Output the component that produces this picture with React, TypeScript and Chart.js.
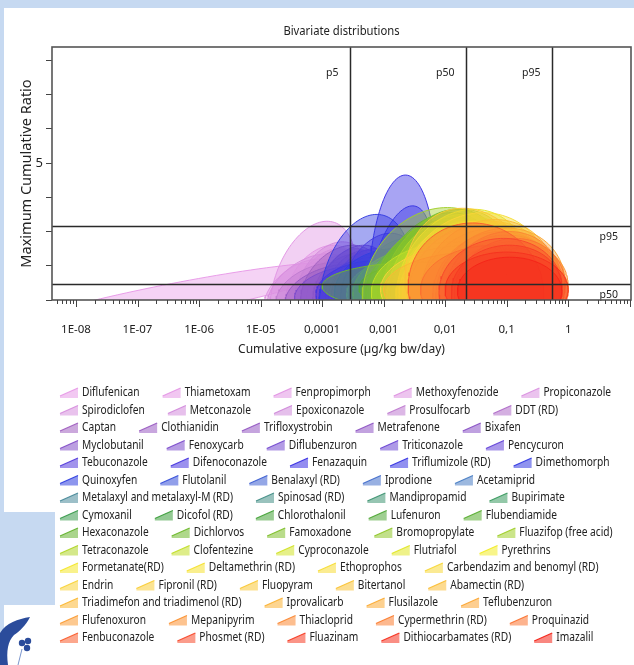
import React, { useEffect, useRef } from "react";
import { Chart, registerables } from "chart.js";

Chart.register(...registerables);

// ---------- DATA ----------
const chartTitle = "Bivariate distributions";
const substances = [
  "Diflufenican", "Thiametoxam", "Fenpropimorph", "Methoxyfenozide", "Propiconazole",
  "Spirodiclofen", "Metconazole", "Epoxiconazole", "Prosulfocarb", "DDT (RD)",
  "Captan", "Clothianidin", "Trifloxystrobin", "Metrafenone", "Bixafen",
  "Myclobutanil", "Fenoxycarb", "Diflubenzuron", "Triticonazole", "Pencycuron",
  "Tebuconazole", "Difenoconazole", "Fenazaquin", "Triflumizole (RD)", "Dimethomorph",
  "Quinoxyfen", "Flutolanil", "Benalaxyl (RD)", "Iprodione", "Acetamiprid",
  "Metalaxyl and metalaxyl-M (RD)", "Spinosad (RD)", "Mandipropamid", "Bupirimate",
  "Cymoxanil", "Dicofol (RD)", "Chlorothalonil", "Lufenuron", "Flubendiamide",
  "Hexaconazole", "Dichlorvos", "Famoxadone", "Bromopropylate", "Fluazifop (free acid)",
  "Tetraconazole", "Clofentezine", "Cyproconazole", "Flutriafol", "Pyrethrins",
  "Formetanate(RD)", "Deltamethrin (RD)", "Ethoprophos", "Carbendazim and benomyl (RD)",
  "Endrin", "Fipronil (RD)", "Fluopyram", "Bitertanol", "Abamectin (RD)",
  "Triadimefon and triadimenol (RD)", "Iprovalicarb", "Flusilazole", "Teflubenzuron",
  "Flufenoxuron", "Mepanipyrim", "Thiacloprid", "Cypermethrin (RD)", "Proquinazid",
  "Fenbuconazole", "Phosmet (RD)", "Fluazinam", "Dithiocarbamates (RD)", "Imazalil",
];
// number of legend entries on each legend row
const legendRowSizes = [5, 5, 5, 5, 5, 5, 4, 5, 5, 5, 4, 5, 4, 5, 5];

// centre of each distribution: log10 of cumulative exposure (µg/kg bw/day)
const centerExposureLog = [
  -6.45, -4.0, -4.15, -4.3, -3.9,
  -4.2, -3.85, -3.7, -4.0, -3.6,
  -3.7, -3.55, -3.8, -3.4, -3.5,
  -3.3, -3.6, -3.25, -3.15, -3.3,
  -3.05, -3.2, -2.7, -2.75, -3.3,
  -2.9, -2.75, -2.6, -2.7, -2.5,
  -2.5, -2.4, -2.3, -2.3,
  -2.2, -2.3, -2.1, -2.1, -2.0,
  -2.0, -2.4, -1.95, -1.9, -2.15,
  -1.85, -1.9, -1.75, -1.7, -1.6,
  -1.6, -1.5, -1.5, -1.45,
  -1.6, -1.4, -1.55, -1.3, -1.3,
  -1.5, -1.0, -1.2, -1.1,
  -1.1, -1.0, -1.05, -1.2, -0.95,
  -1.5, -1.1, -1.0, -1.0, -0.95,
];
// centre of each distribution: maximum cumulative ratio
const centerRatio = [
  1.0, 1.3, 1.35, 1.2, 1.3,
  1.25, 1.3, 1.25, 1.2, 1.3,
  1.35, 1.25, 1.2, 1.3, 1.3,
  1.25, 1.2, 1.3, 1.3, 1.25,
  1.35, 1.25, 1.4, 1.35, 1.3,
  1.3, 1.3, 1.3, 1.25, 1.3,
  1.3, 1.3, 1.3, 1.35,
  1.3, 1.35, 1.35, 1.3, 1.35,
  1.3, 1.4, 1.35, 1.3, 1.35,
  1.3, 1.3, 1.3, 1.35, 1.3,
  1.3, 1.3, 1.35, 1.3,
  1.3, 1.3, 1.35, 1.3, 1.35,
  1.3, 1.4, 1.3, 1.3,
  1.3, 1.3, 1.3, 1.3, 1.3,
  1.3, 1.3, 1.3, 1.3, 1.25,
];
// spread of exposure (decades)
const spreadExposureLog = [
  2.84, 0.6, 0.7, 0.65, 0.55,
  0.7, 0.6, 0.55, 0.75, 0.5,
  0.65, 0.6, 0.8, 0.55, 0.6,
  0.6, 0.85, 0.6, 0.55, 0.75,
  0.65, 0.9, 0.55, 0.55, 0.75,
  0.9, 0.7, 0.75, 0.9, 0.8,
  1.0, 0.9, 0.9, 1.0,
  1.0, 1.1, 1.0, 1.1, 1.0,
  1.2, 1.6, 1.1, 1.0, 1.2,
  1.1, 1.3, 1.05, 1.1, 1.05,
  1.15, 1.15, 1.2, 1.2,
  1.45, 1.2, 1.1, 1.1, 1.1,
  1.5, 0.9, 1.0, 1.05,
  1.0, 1.0, 0.95, 1.2, 0.9,
  1.1, 1.0, 0.9, 1.0, 0.85,
];
// spread of the maximum cumulative ratio
const spreadRatio = [
  1.1, 1.3, 1.95, 1.0, 1.2,
  1.1, 1.4, 1.1, 0.9, 1.2,
  1.25, 1.1, 0.85, 1.15, 1.3,
  1.05, 0.8, 1.2, 1.1, 1.0,
  1.6, 0.9, 3.25, 2.4, 2.2,
  1.2, 1.5, 1.3, 1.0, 1.4,
  1.2, 1.6, 1.8, 1.5,
  2.0, 0.75, 2.2, 1.8, 2.3,
  2.1, 0.7, 2.3, 2.0, 2.35,
  2.2, 1.4, 2.0, 2.3, 2.0,
  1.8, 2.0, 2.2, 1.9,
  1.3, 2.0, 2.33, 1.8, 2.0,
  1.1, 1.1, 1.7, 1.8,
  1.6, 1.4, 1.7, 1.3, 1.5,
  1.95, 1.5, 1.3, 1.1, 1.0,
];
// correlation between exposure and ratio
const correlation = [
  0.9, 0.3, 0.33, 0.4, 0.3,
  0.4, 0.3, 0.2, 0.3, 0.3,
  0.3, 0.2, 0.3, 0.2, 0.3,
  0.2, 0.2, 0.2, 0.2, 0.2,
  0.25, 0.1, 0.1, 0.4, 0.25,
  0.1, 0.2, 0.2, 0.1, 0.2,
  0.1, 0.2, 0.2, 0.15,
  0.2, 0.0, 0.2, 0.15, 0.2,
  0.15, 0.0, 0.2, 0.15, 0.15,
  0.15, 0.05, 0.15, 0.15, 0.1,
  0.1, 0.1, 0.1, 0.1,
  0.0, 0.1, -0.15, 0.1, 0.1,
  0.0, 0.2, 0.1, 0.1,
  0.1, 0.1, 0.1, 0.0, 0.1,
  -0.05, 0.05, 0.05, 0.0, 0.0,
];

const percentileExposure = [2.85e-4, 0.0219, 0.543];
const percentileExposureLabels = ["p5", "p50", "p95"];
const percentileRatio = [3.16, 1.47];
const percentileRatioLabels = ["p95", "p50"];

const xTickValues = [1e-8, 1e-7, 1e-6, 1e-5, 1e-4, 1e-3, 1e-2, 1e-1, 1];
const xTickLabels = ["1E-08", "1E-07", "1E-06", "1E-05", "0,0001", "0,001", "0,01", "0,1", "1"];
const yLabelledTicks = [5];
const yTickLabels = ["5"];

const X_MIN = 4.07e-9;
const X_MAX = 10.5;
const Y_MIN = 1;
const Y_MAX = 8.39;

// ---------- STYLE ----------
const FONT = "'Noto Sans', 'DejaVu Sans', sans-serif";
const colorStops: [number, string][] = [
  [0, "#e89ae8"], [7, "#d08ada"], [10, "#a060c0"], [15, "#8450c8"], [19, "#6444d8"],
  [22, "#3a30e4"], [25, "#3040e0"], [29, "#4a7ec4"], [30, "#4a8a9a"], [33, "#3a9a60"],
  [35, "#3c9e3c"], [40, "#6eb82c"], [45, "#c2de28"], [48, "#f2ec28"], [52, "#f8d83a"],
  [57, "#fbbe34"], [61, "#fba634"], [66, "#fb7432"], [68, "#f84a2c"], [71, "#f42418"],
];

function hexToRgb(h: string) {
  const n = parseInt(h.slice(1), 16);
  return [(n >> 16) & 255, (n >> 8) & 255, n & 255];
}
function colorAt(i: number) {
  for (let k = 0; k < colorStops.length - 1; k++) {
    const [i0, c0] = colorStops[k];
    const [i1, c1] = colorStops[k + 1];
    if (i >= i0 && i <= i1) {
      const f = i1 === i0 ? 0 : (i - i0) / (i1 - i0);
      const a = hexToRgb(c0), b = hexToRgb(c1);
      return a.map((v, j) => Math.round(v + (b[j] - v) * f));
    }
  }
  return hexToRgb(colorStops[colorStops.length - 1][1]);
}
const rgba = (c: number[], a: number) => `rgba(${c[0]},${c[1]},${c[2]},${a})`;

function contour(i: number) {
  const r = correlation[i];
  const q = Math.sqrt(1 - r * r);
  const pts: { x: number; y: number }[] = [];
  const steps = 120;
  for (let k = 0; k <= steps; k++) {
    const t = (k / steps) * Math.PI * 2;
    const c = Math.cos(t), s = Math.sin(t);
    pts.push({
      x: Math.pow(10, centerExposureLog[i] + spreadExposureLog[i] * c),
      y: centerRatio[i] + spreadRatio[i] * (r * c + q * s),
    });
  }
  return pts;
}

const LEGEND_FONT_SIZE = 12;
const LEGEND_SX = 0.85;

const overlayPlugin = {
  id: "overlay",
  afterDatasetsDraw(chart: any) {
    const { ctx, chartArea: a, scales } = chart;
    const xs = scales.x, ys = scales.y;
    ctx.save();
    ctx.strokeStyle = "#2a2a2a";
    ctx.lineWidth = 1.5;
    ctx.font = `10.5px ${FONT}`;
    ctx.fillStyle = "#222";
    percentileExposure.forEach((v, i) => {
      const px = Math.round(xs.getPixelForValue(v)) + 0.5;
      ctx.beginPath(); ctx.moveTo(px, a.top); ctx.lineTo(px, a.bottom); ctx.stroke();
      ctx.textAlign = "right"; ctx.textBaseline = "middle";
      ctx.fillText(percentileExposureLabels[i], px - 12, a.top + 26);
    });
    percentileRatio.forEach((v, i) => {
      const py = Math.round(ys.getPixelForValue(v)) + 0.5;
      ctx.beginPath(); ctx.moveTo(a.left, py); ctx.lineTo(a.right, py); ctx.stroke();
      ctx.textAlign = "right"; ctx.textBaseline = "middle";
      ctx.fillText(percentileRatioLabels[i], a.right - 13, py + 11);
    });
    ctx.strokeStyle = "#555";
    ctx.lineWidth = 1.6;
    ctx.strokeRect(a.left, a.top, a.right - a.left, a.bottom - a.top);
    ctx.strokeStyle = "#444";
    ctx.lineWidth = 1;
    for (let k = -10; k <= 1; k++) {
      for (let m = 1; m <= 9; m++) {
        const v = m * Math.pow(10, k);
        if (v < xs.min || v > xs.max) continue;
        const px = Math.round(xs.getPixelForValue(v)) + 0.5;
        const len = m === 1 ? 7 : 4;
        ctx.beginPath(); ctx.moveTo(px, a.bottom); ctx.lineTo(px, a.bottom + len); ctx.stroke();
      }
    }
    // title centred over the plot area
    ctx.save();
    ctx.font = `12.5px ${FONT}`;
    ctx.textAlign = "center";
    ctx.textBaseline = "middle";
    ctx.fillStyle = "#222";
    ctx.translate((a.left + a.right) / 2, 31);
    ctx.scale(0.9, 1);
    ctx.fillText(chartTitle, 0, 0);
    ctx.restore();
    ctx.restore();
  },
  afterDraw(chart: any) {
    const ctx = chart.ctx;
    ctx.save();
    ctx.font = `${LEGEND_FONT_SIZE}px ${FONT}`;
    ctx.textBaseline = "middle";
    ctx.textAlign = "left";
    const X0 = 60, Y0 = 393, ROW = 17.5;
    let idx = 0;
    legendRowSizes.forEach((n, row) => {
      let x = X0;
      const y = Y0 + row * ROW;
      for (let j = 0; j < n && idx < substances.length; j++, idx++) {
        const name = substances[idx];
        const tw = ctx.measureText(name).width * LEGEND_SX;
        const c = colorAt(idx);
        ctx.beginPath();
        ctx.moveTo(x, y + 5); ctx.lineTo(x + 18, y + 5); ctx.lineTo(x + 18, y - 5); ctx.lineTo(x, y + 3);
        ctx.closePath();
        ctx.fillStyle = rgba(c, 0.55);
        ctx.fill();
        ctx.strokeStyle = rgba(c, 0.95);
        ctx.lineWidth = 1.2;
        ctx.beginPath(); ctx.moveTo(x, y + 3); ctx.lineTo(x + 18, y - 5); ctx.stroke();
        ctx.save();
        ctx.translate(x + 22, y);
        ctx.scale(LEGEND_SX, 1);
        ctx.fillStyle = "#222";
        ctx.fillText(name, 0, 0);
        ctx.restore();
        x += 22 + tw + 23;
      }
    });
    ctx.restore();
  },
};

export default function App() {
  const ref = useRef<HTMLCanvasElement | null>(null);
  useEffect(() => {
    document.body.style.margin = "0";
    const N = substances.length;
    const datasets = substances.map((name, i) => {
      const c = colorAt(i);
      return {
        label: name,
        data: contour(i),
        showLine: true,
        fill: "shape",
        backgroundColor: rgba(c, 0.44),
        borderColor: rgba(c, 0.95),
        borderWidth: 1,
        pointRadius: 0,
        tension: 0,
        order: N - i,
      };
    });
    const chart = new Chart(ref.current as HTMLCanvasElement, {
      type: "scatter",
      data: { datasets } as any,
      options: {
        responsive: false,
        animation: false,
        devicePixelRatio: 1,
        layout: { padding: { left: 0, top: 47, right: 3, bottom: 305 } },
        plugins: {
          legend: { display: false },
          tooltip: { enabled: false },
          title: { display: false },
        },
        scales: {
          x: {
            type: "logarithmic",
            min: X_MIN,
            max: X_MAX,
            afterBuildTicks: (s: any) => { s.ticks = xTickValues.map((v) => ({ value: v })); },
            afterFit: (s: any) => { s.height = 60; },
            ticks: {
              autoSkip: false,
              maxRotation: 0,
              padding: 15,
              color: "#222",
              font: { family: FONT, size: 11.5 },
              callback: (_v: any, idx: number) => xTickLabels[idx],
            },
            grid: { display: false },
            border: { display: false },
            title: {
              display: true,
              text: "Cumulative exposure (µg/kg bw/day)",
              color: "#222",
              font: { family: FONT, size: 12 },
              padding: { top: 0, bottom: 3 },
            },
          },
          y: {
            min: Y_MIN,
            max: Y_MAX,
            afterFit: (s: any) => { s.width = 52; },
            ticks: {
              stepSize: 1,
              includeBounds: false,
              padding: 3,
              color: "#222",
              font: { family: FONT, size: 13 },
              callback: (v: any) => {
                const k = yLabelledTicks.indexOf(Number(v));
                return k >= 0 ? yTickLabels[k] : "";
              },
            },
            grid: { drawOnChartArea: false, drawTicks: true, tickLength: 6, tickColor: "#444" },
            border: { display: false },
            title: {
              display: true,
              text: "Maximum Cumulative Ratio",
              color: "#222",
              font: { family: FONT, size: 14.5 },
              padding: { top: 18, bottom: 0 },
            },
          },
        },
      } as any,
      plugins: [overlayPlugin],
    });
    return () => chart.destroy();
  }, []);

  return (
    <div style={{ position: "relative", width: 634, height: 665, background: "#c6d9f1", overflow: "hidden" }}>
      <div style={{ position: "absolute", left: 4, top: 8, right: 0, bottom: 0, background: "#ffffff" }} />
      <div style={{ position: "absolute", left: 0, top: 512, width: 55, height: 93, background: "#c6d9f1" }} />
      <canvas ref={ref} width={634} height={665} style={{ position: "absolute", left: 0, top: 0 }} />
      <svg width={60} height={60} style={{ position: "absolute", left: 0, top: 605 }}>
        <path d="M0 60 L0 28 C6 18 18 14 30 12 C26 20 20 26 14 30 C8 36 6 46 8 60 Z" fill="#2b4c9b" />
        <circle cx={22} cy={38} r={3.2} fill="#2b4c9b" />
        <circle cx={28} cy={36} r={3.2} fill="#2b4c9b" />
        <circle cx={27} cy={43} r={3.2} fill="#2b4c9b" />
        <path d="M22 44 L18 60" stroke="#7a95cc" strokeWidth={1} />
      </svg>
    </div>
  );
}
